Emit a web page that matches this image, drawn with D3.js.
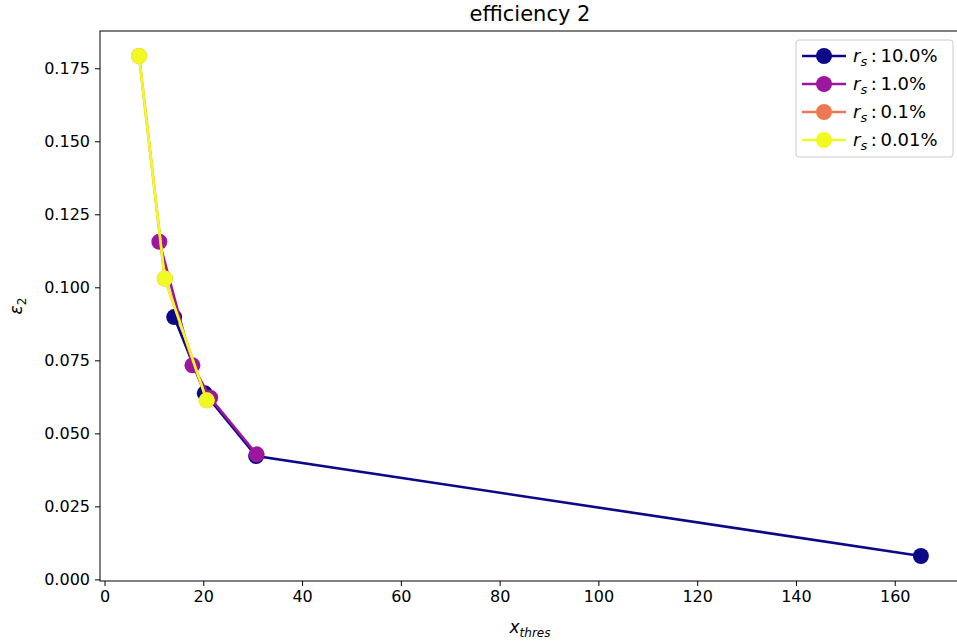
<!DOCTYPE html>
<meta charset="utf-8">
<style>
body { margin: 0; background: #fff; }
text { font-family: "DejaVu Sans", sans-serif; fill: #000; }
.tick text { font-size: 16px; }
.tick line { stroke: #000; stroke-width: 1; }
.domain { display: none; }
</style>
<svg width="957" height="644"></svg>
<script src="https://d3js.org/d3.v7.min.js"></script>
<script>

var labels = ["10.0%", "1.0%", "0.1%", "0.01%"];
var colors = ["#0d0887", "#9c179e", "#ed7953", "#f0f921"];

// x_thres and epsilon_2 per r_s
var x10 = [14.1, 20.3, 30.7, 165.3],
    y10 = [0.0898, 0.0637, 0.0422, 0.0080];
var x1 = [11.1, 17.8, 21.4, 30.8],
    y1 = [0.1156, 0.0733, 0.0622, 0.0428];
var x01 = [7.0, 12.2, 20.7],
    y01 = [0.1792, 0.1030, 0.0613];
var x001 = [7.0, 12.2, 20.7],
    y001 = [0.1792, 0.1030, 0.0613];

var xTicks = [0, 20, 40, 60, 80, 100, 120, 140, 160];
var yTicks = [0, 0.025, 0.05, 0.075, 0.1, 0.125, 0.15, 0.175];

var series = [[x10, y10], [x1, y1], [x01, y01], [x001, y001]].map(function(s, i) {
  return { label: labels[i], color: colors[i],
           pts: s[0].map(function(x, j) { return [x, s[1][j]]; }) };
});

var svg = d3.select("svg"),
    padL = 100, padR = 960, padT = 31, padB = 581;

// matplotlib-style 5% margins
var allX = [].concat(x10, x1, x01, x001), allY = [].concat(y10, y1, y01, y001);
var xmin = d3.min(allX), xmax = d3.max(allX), ymin = d3.min(allY), ymax = d3.max(allY);
var dx = (xmax - xmin) * 0.05, dy = (ymax - ymin) * 0.05;

var x = d3.scaleLinear().domain([xmin - dx, xmax + dx]).range([padL, padR]);
var y = d3.scaleLinear().domain([ymin - dy, ymax + dy]).range([padB, padT]);

svg.append("g")
    .attr("transform", "translate(0," + padB + ")")
    .call(d3.axisBottom(x).tickValues(xTicks).tickSize(5).tickPadding(5).tickFormat(d3.format("d")));

svg.append("g")
    .attr("transform", "translate(" + padL + ",0)")
    .call(d3.axisLeft(y).tickValues(yTicks).tickSize(5).tickPadding(5).tickFormat(d3.format(".3f")));

svg.append("rect")
    .attr("x", padL).attr("y", padT)
    .attr("width", padR - padL).attr("height", padB - padT)
    .attr("fill", "none").attr("stroke", "#000").attr("stroke-width", 1);

var line = d3.line().x(function(d) { return x(d[0]); }).y(function(d) { return y(d[1]); });

var g = svg.append("g");
series.forEach(function(s) {
  g.append("path")
      .attr("d", line(s.pts))
      .attr("fill", "none")
      .attr("stroke", s.color)
      .attr("stroke-width", 2.6);
  g.selectAll(null)
    .data(s.pts)
    .enter().append("circle")
      .attr("cx", function(d) { return x(d[0]); })
      .attr("cy", function(d) { return y(d[1]); })
      .attr("r", 8)
      .attr("fill", s.color);
});

svg.append("text")
    .attr("x", (padL + padR) / 2).attr("y", 21)
    .attr("text-anchor", "middle")
    .style("font-size", "21px")
    .text("efficiency 2");

var xl = svg.append("text")
    .attr("x", (padL + padR) / 2).attr("y", 633)
    .attr("text-anchor", "middle")
    .style("font-size", "17px").style("font-style", "italic");
xl.append("tspan").text("x");
xl.append("tspan").attr("dy", 4).style("font-size", "12px").text("thres");

var yl = svg.append("text")
    .attr("transform", "translate(22,306) rotate(-90)")
    .attr("text-anchor", "middle")
    .style("font-size", "17px").style("font-style", "italic");
yl.append("tspan").text("ε");
yl.append("tspan").attr("dy", 4).style("font-size", "12px").style("font-style", "normal").text("2");

// legend
var lg = svg.append("g").attr("transform", "translate(796,40)");
lg.append("rect")
    .attr("width", 157).attr("height", 117).attr("rx", 3)
    .attr("fill", "#fff").attr("stroke", "#ccc");
series.forEach(function(s, i) {
  var row = lg.append("g").attr("transform", "translate(0," + (16 + i * 28) + ")");
  row.append("line").attr("x1", 6).attr("x2", 50).attr("stroke", s.color).attr("stroke-width", 2.6);
  row.append("circle").attr("cx", 28).attr("r", 8).attr("fill", s.color);
  var t = row.append("text").attr("x", 57).attr("y", 6).style("font-size", "18px");
  t.append("tspan").style("font-style", "italic").text("r");
  t.append("tspan").attr("dy", 4).style("font-size", "13px").style("font-style", "italic").text("s");
  t.append("tspan").attr("dy", -4).text("\u2009:\u2009" + s.label);
});

</script>
